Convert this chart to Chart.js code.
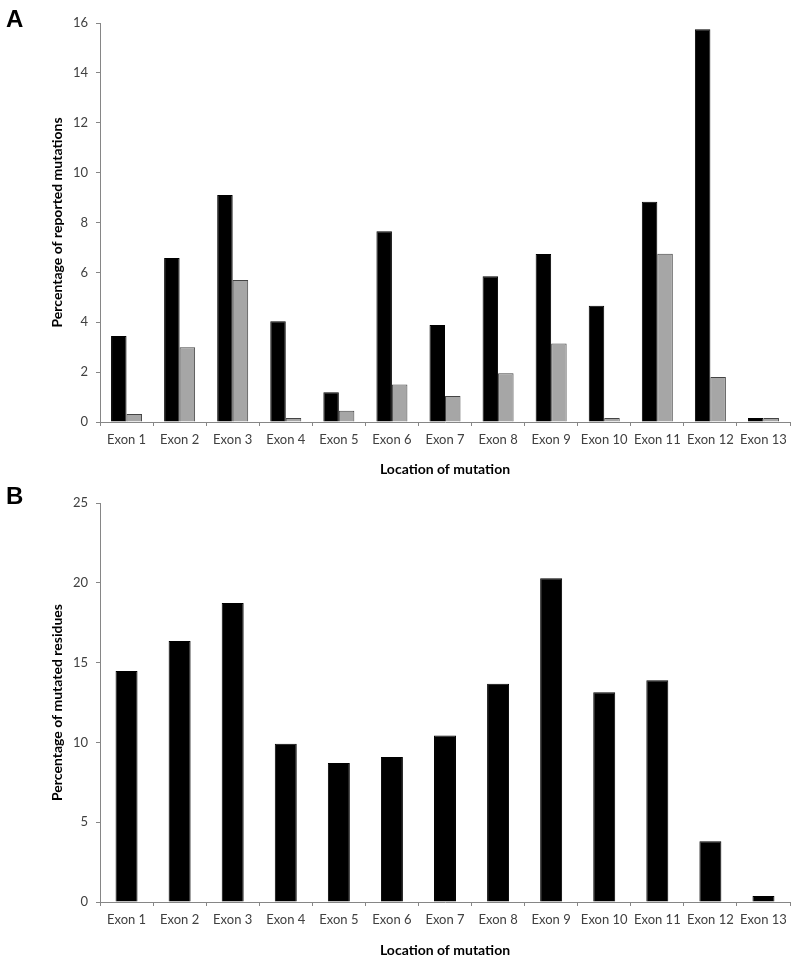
<!DOCTYPE html>
<html>
<head>
<meta charset="utf-8">
<script src="https://cdn.jsdelivr.net/npm/chart.js@4/dist/chart.umd.min.js"></script>
<style>
  html, body { margin: 0; padding: 0; background: #fff; }
  #wrap { position: relative; width: 800px; height: 964px; }
  .panel { position: absolute; left: 0; width: 800px; }
  .tag { position: absolute; left: 6px; font: bold 24px "Liberation Sans", Arial, sans-serif; color: #000; }
</style>
</head>
<body>
<div id="wrap">
  <div class="panel" style="top:0;height:480px"><canvas id="chartA" width="800" height="480"></canvas></div>
  <div class="panel" style="top:480px;height:484px"><canvas id="chartB" width="800" height="484"></canvas></div>
  <div class="tag" style="top:5px">A</div>
  <div class="tag" style="top:482px">B</div>
</div>
<script>
// Exon labels shared by both panels
const exons = ["Exon 1", "Exon 2", "Exon 3", "Exon 4", "Exon 5", "Exon 6", "Exon 7",
  "Exon 8", "Exon 9", "Exon 10", "Exon 11", "Exon 12", "Exon 13"];

// Panel A: percentage of reported mutations (black and grey series)
const reportedBlack = [3.45, 6.58, 9.1, 4.04, 1.19, 7.65, 3.89, 5.84, 6.74, 4.66, 8.83, 15.75, 0.16];
const reportedGrey = [0.32, 3.0, 5.69, 0.16, 0.45, 1.5, 1.04, 1.95, 3.15, 0.16, 6.75, 1.8, 0.16];
const ticksA = [0, 2, 4, 6, 8, 10, 12, 14, 16];

// Panel B: percentage of mutated residues
const mutatedResidues = [14.47, 16.35, 18.73, 9.92, 8.71, 9.09, 10.44, 13.68, 20.28, 13.14, 13.89, 3.8, 0.38];
const ticksB = [0, 5, 10, 15, 20, 25];

const AXIS = "#868686";
const TEXT = "#404040";
const FONT = "Lato, 'Open Sans', sans-serif";

function scales(yTitle, yMax, yStep, xHeight, xTitlePad) {
  return {
    x: {
      grid: { display: true, drawOnChartArea: false, drawTicks: true, tickLength: 4, color: AXIS, offset: true },
      border: { display: true, color: AXIS, width: 1 },
      ticks: { color: TEXT, font: { family: FONT, size: 13 }, padding: 6, maxRotation: 0, autoSkip: false },
      title: { display: true, text: "Location of mutation", color: "#000",
        font: { family: FONT, size: 14, weight: "bold" }, padding: { top: 0, bottom: xTitlePad } },
      afterFit: (s) => { s.height = xHeight; },
    },
    y: {
      min: 0, max: yMax,
      grid: { display: true, drawOnChartArea: false, drawTicks: true, tickLength: 4, color: AXIS },
      border: { display: true, color: AXIS, width: 1 },
      ticks: { stepSize: yStep, color: TEXT, font: { family: FONT, size: 13 }, padding: 8 },
      title: { display: true, text: yTitle, color: "#000",
        font: { family: FONT, size: 14, weight: "bold" }, padding: { top: 49, bottom: 0 } },
      afterFit: (s) => { s.width = 100; },
    },
  };
}

const common = {
  responsive: false,
  animation: false,
  devicePixelRatio: 1,
  plugins: { legend: { display: false }, tooltip: { enabled: false } },
  layout: { padding: { left: 0, right: 10, top: 23, bottom: 0 } },
};

new Chart(document.getElementById("chartA"), {
  type: "bar",
  data: {
    labels: exons,
    datasets: [
      { data: reportedBlack, backgroundColor: "#000", borderColor: "#000", borderWidth: 1,
        categoryPercentage: 0.584, barPercentage: 1.0 },
      { data: reportedGrey, backgroundColor: "#a6a6a6", borderColor: "#444", borderWidth: 1,
        categoryPercentage: 0.584, barPercentage: 1.0 },
    ],
  },
  options: Object.assign({}, common, {
    scales: scales("Percentage of reported mutations", ticksA[ticksA.length - 1], ticksA[1] - ticksA[0], 58, 2),
  }),
});

new Chart(document.getElementById("chartB"), {
  type: "bar",
  data: {
    labels: exons,
    datasets: [
      { data: mutatedResidues, backgroundColor: "#000", borderColor: "#000", borderWidth: 1,
        categoryPercentage: 0.414, barPercentage: 1.0 },
    ],
  },
  options: Object.assign({}, common, {
    scales: scales("Percentage of mutated residues", ticksB[ticksB.length - 1], ticksB[1] - ticksB[0], 62, 5),
  }),
});
</script>
</body>
</html>
